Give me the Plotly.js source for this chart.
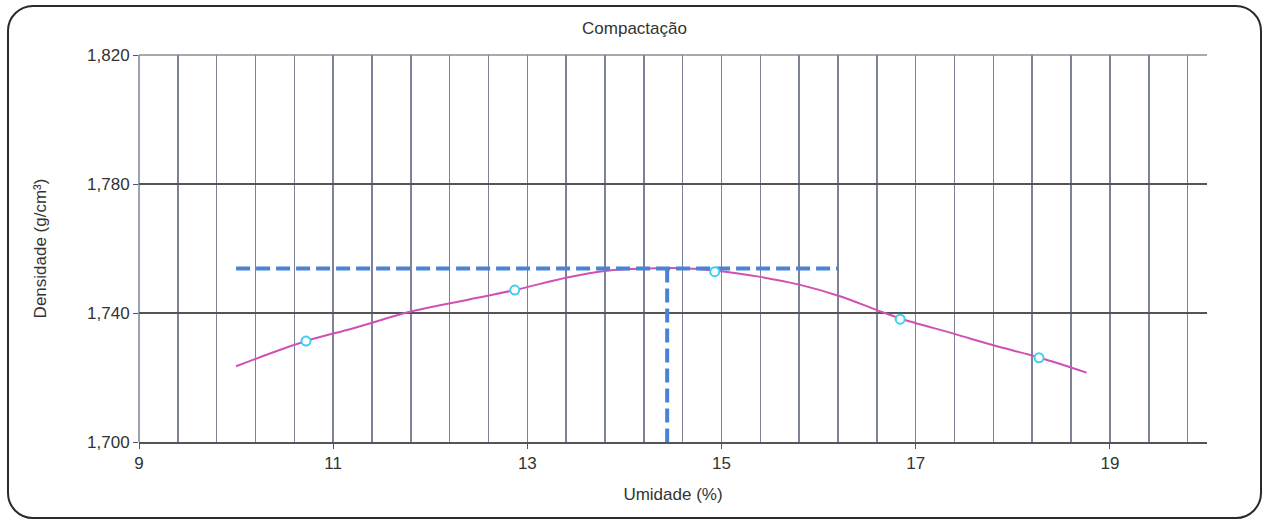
<!DOCTYPE html>
<html>
<head>
<meta charset="utf-8">
<script src="https://cdn.plot.ly/plotly-3.0.1.min.js"></script>
<style>
html,body{margin:0;padding:0;background:#fff;}
#wrap{position:relative;width:1269px;height:519px;}
#chart{width:1269px;height:519px;}
#frame{position:absolute;left:7px;top:5px;width:1251px;height:510px;border:2px solid #2a2a2a;border-radius:26px;pointer-events:none;}
</style>
</head>
<body>
<div id="wrap"><div id="chart"></div><div id="frame"></div></div>
<script>
// Measured points
const umidade = [10.72, 12.87, 14.93, 16.84, 18.27];
const densidade = [1.7313, 1.7471, 1.7528, 1.7381, 1.7261];
// Trend curve
const curveX = [10.0, 10.72, 11.2, 11.82, 12.4, 12.87, 13.41, 13.82, 14.2, 14.6, 14.93, 15.4, 15.8, 16.22, 16.6, 16.84, 17.39, 17.8, 18.27, 18.76];
const curveY = [1.7235, 1.7313, 1.7352, 1.7406, 1.7442, 1.7471, 1.7510, 1.7531, 1.7538, 1.7539, 1.7532, 1.7512, 1.7488, 1.7452, 1.7409, 1.7383, 1.7336, 1.7300, 1.7262, 1.7215];
// Optimum guide lines
const guideHX = [10.0, 16.2];
const guideHY = [1.7538, 1.7538];
const guideVX = [14.44, 14.44];
const guideVY = [1.7538, 1.700];
const yTicks = [1.700, 1.740, 1.780, 1.820];
const yTickText = ['1,700', '1,740', '1,780', '1,820'];
const xTicks = [9, 11, 13, 15, 17, 19];

const traces = [
  {x: curveX, y: curveY, mode: 'lines', line: {color: '#d050b4', width: 2, shape: 'spline'}, hoverinfo: 'skip'},
  {x: guideHX, y: guideHY, mode: 'lines', line: {color: '#4a82d4', width: 4, dash: '14px,6px'}},
  {x: guideVX, y: guideVY, mode: 'lines', line: {color: '#4a82d4', width: 4, dash: '14px,6px'}},
  {x: umidade, y: densidade, mode: 'markers', marker: {symbol: 'circle', size: 9, color: '#ffffff', line: {color: '#3ccff0', width: 2}}}
];

const layout = {
  width: 1269, height: 519,
  margin: {l: 139, r: 62, t: 55, b: 77},
  paper_bgcolor: '#ffffff', plot_bgcolor: '#ffffff',
  showlegend: false,
  font: {family: 'Liberation Sans, Arial, sans-serif', color: '#333333', size: 17},
  title: {text: 'Compactação', x: 0.5, xanchor: 'center', y: 0.946, yanchor: 'middle', font: {size: 17, color: '#333333'}},
  xaxis: {
    range: [9, 20], tickvals: xTicks, ticktext: xTicks.map(String),
    ticks: 'outside', ticklen: 5, tickcolor: '#555', tickwidth: 1,
    showgrid: true, gridcolor: '#7c8399', gridwidth: 1.5,
    minor: {tick0: 9, dtick: 0.4, showgrid: true, gridcolor: '#7c8399', gridwidth: 1.5, ticks: ''},
    showline: true, linecolor: '#555', linewidth: 1.5,
    zeroline: false, tickfont: {size: 17, color: '#333'},
    title: {text: 'Umidade (%)', font: {size: 17, color: '#333'}, standoff: 16}
  },
  yaxis: {
    range: [1.700, 1.820], tickvals: yTicks, ticktext: yTickText,
    ticks: 'outside', ticklen: 5, tickcolor: '#555',
    showgrid: true, gridcolor: '#555555', gridwidth: 1.2,
    showline: false, zeroline: false, tickfont: {size: 17, color: '#333'},
    title: {text: 'Densidade (g/cm³)', font: {size: 17, color: '#333'}, standoff: 36}
  },
  shapes: [
    {type: 'line', xref: 'paper', yref: 'paper', x0: 0, x1: 1, y0: 1, y1: 1, line: {color: '#555555', width: 1.2}, layer: 'below'},
    {type: 'line', xref: 'paper', yref: 'paper', x0: 0, x1: 0, y0: 0, y1: 1, line: {color: '#7c8399', width: 1.5}, layer: 'below'}
  ]
};

Plotly.newPlot('chart', traces, layout, {staticPlot: true, displayModeBar: false});
</script>
</body>
</html>
